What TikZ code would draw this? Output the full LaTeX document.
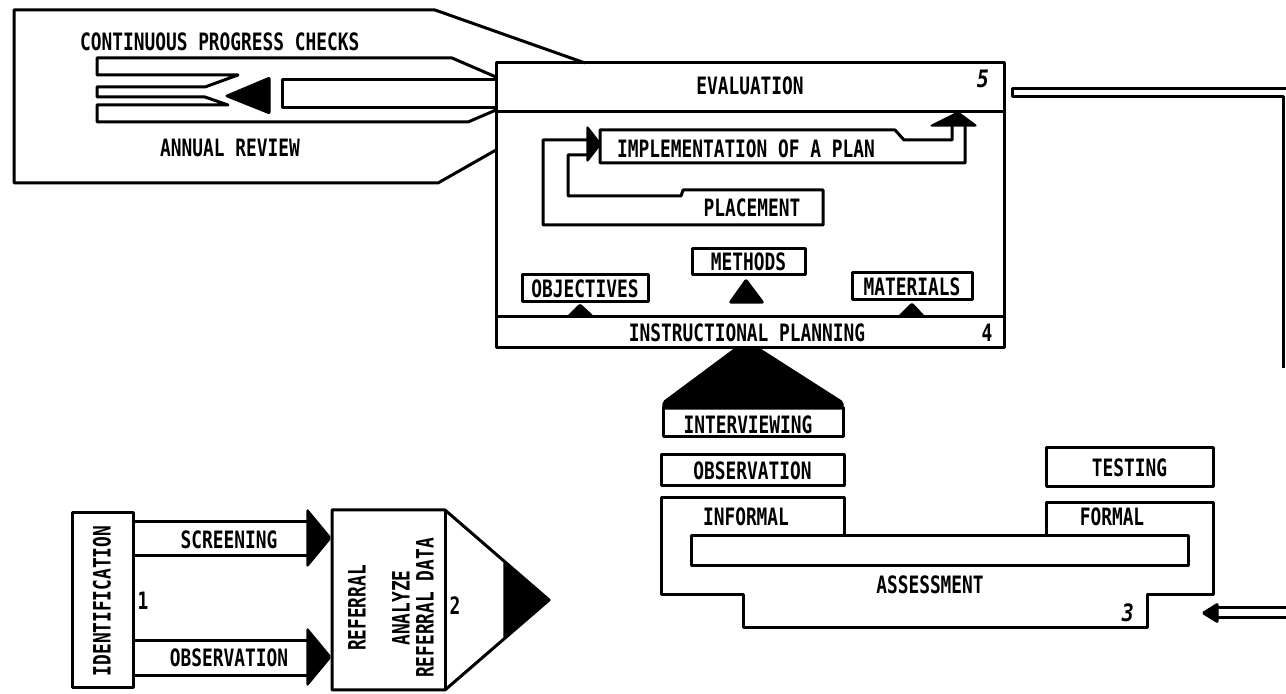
\documentclass[tikz,border=0pt]{standalone}
\usepackage{fontspec}
\setmainfont{DejaVu Sans Mono}
\usepackage{tikz}
\usetikzlibrary{calc}
\definecolor{InkBlack}{rgb}{0,0,0}
\newcommand{\lbl}[1]{{\fontsize{9.2}{10}\selectfont\scalebox{0.97}[1.3]{\textbf{#1}}}}
\newcommand{\stepno}[1]{{\fontsize{10}{10}\selectfont\scalebox{1}[1.2]{\itshape\textbf{#1}}}}

\begin{document}
\begin{tikzpicture}[x=0.5pt,y=-0.5pt,line join=round,
    ink/.style={draw=InkBlack, line width=1.5pt},
    head/.style={fill=InkBlack, draw=InkBlack, line width=0.6pt, rounded corners=1pt}]
        \useasboundingbox (0,0) rectangle (1286,694);
        \clip (0,0) rectangle (1286,694);
        % evaluation / instructional planning block
        \draw [ink] (496,63) rectangle (1004,348);
        \draw [ink] (496,112) -- (1004,112);
        \draw [ink] (496,317) -- (1004,317);
        \node (eval) at (750,86) {\lbl{EVALUATION}};
        \node (evalno) at (983,79) {\stepno{5}};
        \node (instr) at (747,333) {\lbl{INSTRUCTIONAL PLANNING}};
        \node (instrno) at (987,333) {\lbl{4}};
        % progress checks and review
        \draw [ink] (585,63) -- (435,10) -- (14,10) -- (14,183) -- (438,183) -- (496,150);
        \draw [ink] (496,77) -- (452,58) -- (97,58) -- (97,75) -- (238,75) -- (205,87) -- (97,87) -- (97,97)
            -- (205,97) -- (228,105) -- (97,105) -- (97,122) -- (468,122) -- (496,110);
        \draw [ink] (496,80) -- (282,80) -- (282,108) -- (496,108);
        \draw [head] (270,77) -- (270,114) -- (225,96) -- cycle;
        \node (checks) [anchor=west] at (73,42) {\lbl{CONTINUOUS PROGRESS CHECKS}};
        \node (review) [anchor=west] at (153,148) {\lbl{ANNUAL REVIEW}};
        % implementation and placement
        \draw [ink] (952,126) -- (952,140) -- (904,140) -- (895,130) -- (600,130) -- (600,163) -- (965,163) -- (965,126);
        \draw [head] (930,126) -- (977,126) -- (958,112) -- cycle;
        \node (impl) at (746,149) {\lbl{IMPLEMENTATION OF A PLAN}};
        \draw [head] (587,126) -- (601,144) -- (587,162) -- cycle;
        \draw [ink] (588,140) -- (543,140) -- (543,225) -- (823,225) -- (823,190) -- (683,190) -- (681,196)
            -- (568,196) -- (568,155) -- (588,155);
        \node (place) at (752,208) {\lbl{PLACEMENT}};
        % planning components
        \draw [ink] (692,249) rectangle (805,275) node[pos=.5] (methods) {\lbl{METHODS}};
        \draw [head] (746,279) -- (764,303) -- (729,303) -- cycle;
        \draw [ink] (522,275) rectangle (648,302) node[pos=.5] (objectives) {\lbl{OBJECTIVES}};
        \draw [head] (580,304) -- (594,317) -- (567,317) -- cycle;
        \draw [ink] (852,273) rectangle (972,300) node[pos=.5] (materials) {\lbl{MATERIALS}};
        \draw [head] (912,303) -- (925,317) -- (898,317) -- cycle;
        % assessment
        \draw [head] (737,347) -- (757,347) -- (843,402) -- (843,409) -- (663,409) -- (663,402) -- cycle;
        \draw [ink] (663,408) rectangle (843,437);
        \node (interview) at (748,425) {\lbl{INTERVIEWING}};
        \draw [ink] (661,455) rectangle (844,486) node[pos=.5] (observe) {\lbl{OBSERVATION}};
        \draw [ink] (1046,448) rectangle (1213,487) node[pos=.5] (testing) {\lbl{TESTING}};
        \draw [ink] (844,536) -- (844,498) -- (661,498) -- (661,595) -- (743,595) -- (743,628) -- (1147,628)
            -- (1147,595) -- (1213,595) -- (1213,503) -- (1046,503) -- (1046,536);
        \draw [ink] (691,536) rectangle (1188,566);
        \node (informal) at (746,517) {\lbl{INFORMAL}};
        \node (formal) at (1112,517) {\lbl{FORMAL}};
        \node (assess) at (930,585) {\lbl{ASSESSMENT}};
        \node (assessno) at (1128,613) {\stepno{3}};
        % feedback pipe
        \draw [ink] (1290,89) -- (1012,89) -- (1012,97) -- (1283,97) -- (1283,368);
        \draw [ink] (1290,608) -- (1214,608);
        \draw [ink] (1290,618) -- (1214,618);
        \draw [head] (1202,613) -- (1218,603) -- (1218,623) -- cycle;
        % identification and referral
        \draw [ink] (72,513) rectangle (133,688);
        \node (ident) [rotate=90] at (102,601) {\lbl{IDENTIFICATION}};
        \node (identno) at (143,601) {\lbl{1}};
        \draw [ink] (133,522) -- (307,522);
        \draw [ink] (133,556) -- (307,556);
        \draw [head] (307,509) -- (331,538) -- (307,567) -- cycle;
        \node (screen) at (229,540) {\lbl{SCREENING}};
        \draw [ink] (133,641) -- (307,641);
        \draw [ink] (133,676) -- (307,676);
        \draw [head] (307,628) -- (331,657) -- (307,686) -- cycle;
        \node (observe2) at (229,658) {\lbl{OBSERVATION}};
        \draw [ink] (445,510) -- (332,510) -- (332,690) -- (445,690) -- (549,600) -- cycle;
        \draw [ink] (445,510) -- (445,690);
        \draw [head] (504,561) -- (549,600) -- (504,639) -- cycle;
        \node (referral) [rotate=90] at (357,608) {\lbl{REFERRAL}};
        \node (analyze) [rotate=90] at (401,608) {\lbl{ANALYZE}};
        \node (refdata) [rotate=90] at (425,608) {\lbl{REFERRAL DATA}};
        \node (refno) at (455,606) {\lbl{2}};
      \end{tikzpicture}
\end{document}
